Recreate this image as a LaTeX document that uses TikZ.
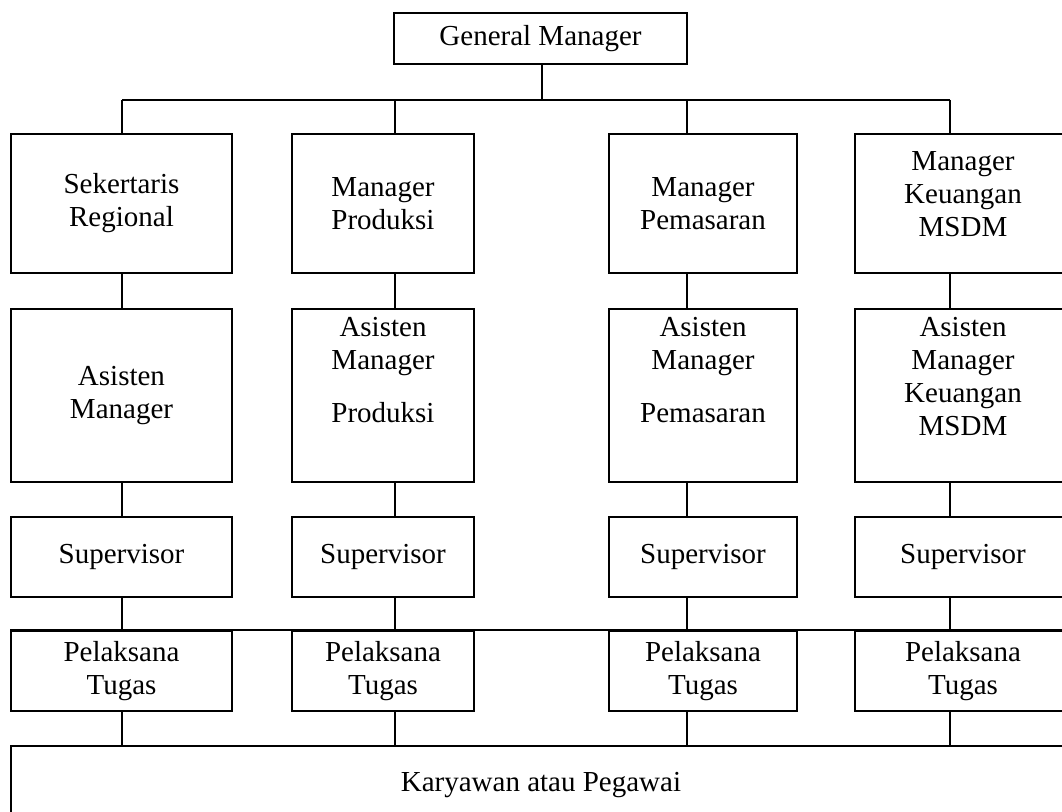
\documentclass[tikz,border=0pt]{standalone}
\usepackage{fontspec}
\setmainfont{Liberation Serif}
\usepackage{tikz}
\usetikzlibrary{positioning}
\newcommand{\orgfont}{\fontsize{14.5}{16.5}\selectfont}

\begin{document}
\begin{tikzpicture}[
  x=0.5pt, y=-0.5pt,
  line width=1pt,
  box/.style = {rectangle, draw, inner sep=0pt, align=center, font=\orgfont},
  txt/.style = {inner sep=0pt, align=center, font=\orgfont},
  col1/.style = {minimum width=110.5pt},
  col2/.style = {minimum width=91pt},
  col3/.style = {minimum width=94pt},
  col4/.style = {minimum width=108pt},
  row1/.style = {minimum height=69.5pt},
  row2/.style = {minimum height=86.5pt},
  row3/.style = {minimum height=40pt},
  row4/.style = {minimum height=40pt}
  ]
  \useasboundingbox (0,0) rectangle (1062,812);

  % Kotak
  \node[box, minimum width=146.5pt, minimum height=25.5pt] (gm) at (540.5,38.5) {General Manager};

  \node[box, col1, row1] (sek) at (121.5,203.5) {Sekertaris\\Regional};
  \node[box, col2, row1] (mprod) at (383,203.5) {Manager\\Produksi};
  \node[box, col3, row1] (mpem) at (703,203.5) {Manager\\Pemasaran};
  \node[box, col4, row1] (mkeu) at (963,203.5) {};
  \node[txt, below=9pt of mkeu.north] (mkeu text) {Manager\\Keuangan\\MSDM};

  \node[box, col1, row2] (asm) at (121.5,395.5) {Asisten\\Manager};
  \node[box, col2, row2] (aprod) at (383,395.5) {};
  \node[txt, below=4pt of aprod.north] (aprod text) {Asisten\\Manager\\[10pt]Produksi};
  \node[box, col3, row2] (apem) at (703,395.5) {};
  \node[txt, below=4pt of apem.north] (apem text) {Asisten\\Manager\\[10pt]Pemasaran};
  \node[box, col4, row2] (akeu) at (963,395.5) {};
  \node[txt, below=4pt of akeu.north] (akeu text) {Asisten\\Manager\\Keuangan\\MSDM};

  \node[box, col1, row3] (sup1) at (121.5,557) {Supervisor};
  \node[box, col2, row3] (sup2) at (383,557) {Supervisor};
  \node[box, col3, row3] (sup3) at (703,557) {Supervisor};
  \node[box, col4, row3] (sup4) at (963,557) {Supervisor};

  \node[box, col1, row4] (pel1) at (121.5,671) {Pelaksana\\Tugas};
  \node[box, col2, row4] (pel2) at (383,671) {Pelaksana\\Tugas};
  \node[box, col3, row4] (pel3) at (703,671) {Pelaksana\\Tugas};
  \node[box, col4, row4] (pel4) at (963,671) {Pelaksana\\Tugas};

  \node[box, minimum width=530pt, minimum height=39pt] (kar) at (541,785) {Karyawan atau Pegawai};

  % Garis
  \coordinate (j1) at (122,100);
  \coordinate (j2) at (395,100);
  \coordinate (j3) at (687,100);
  \coordinate (j4) at (950,100);

  \draw (gm.south -| 542,0) -- (j1 -| 542,0);
  \draw (j1) -- (j4);
  \draw (j1) -- (sek.north -| j1);
  \draw (j2) -- (mprod.north -| j2);
  \draw (j3) -- (mpem.north -| j3);
  \draw (j4) -- (mkeu.north -| j4);

  \draw (sek.south -| j1) -- (asm.north -| j1);
  \draw (mprod.south -| j2) -- (aprod.north -| j2);
  \draw (mpem.south -| j3) -- (apem.north -| j3);
  \draw (mkeu.south -| j4) -- (akeu.north -| j4);

  \draw (asm.south -| j1) -- (sup1.north -| j1);
  \draw (aprod.south -| j2) -- (sup2.north -| j2);
  \draw (apem.south -| j3) -- (sup3.north -| j3);
  \draw (akeu.south -| j4) -- (sup4.north -| j4);

  \draw (pel1.north west) -- (pel4.north east);
  \draw (sup1.south -| j1) -- (pel1.north -| j1);
  \draw (sup2.south -| j2) -- (pel2.north -| j2);
  \draw (sup3.south -| j3) -- (pel3.north -| j3);
  \draw (sup4.south -| j4) -- (pel4.north -| j4);

  \draw (pel1.south -| j1) -- (kar.north -| j1);
  \draw (pel2.south -| j2) -- (kar.north -| j2);
  \draw (pel3.south -| j3) -- (kar.north -| j3);
  \draw (pel4.south -| j4) -- (kar.north -| j4);
\end{tikzpicture}
\end{document}
